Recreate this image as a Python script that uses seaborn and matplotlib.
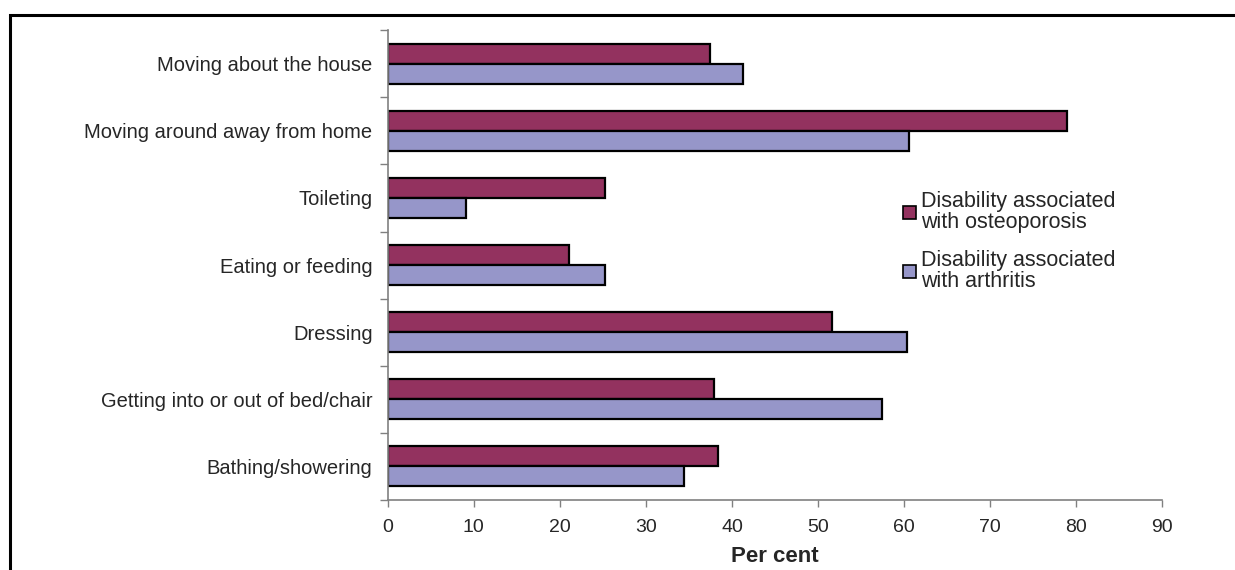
import pandas as pd
import numpy as np
import matplotlib
matplotlib.use('Agg')
import matplotlib.pyplot as plt
import seaborn as sns
from matplotlib.patches import Rectangle

# data
activities = ['Moving about the house', 'Moving around away from home', 'Toileting',
              'Eating or feeding', 'Dressing', 'Getting into or out of bed/chair',
              'Bathing/showering']
osteoporosis = [37.4, 79.0, 25.3, 21.1, 51.6, 37.9, 38.4]
arthritis = [41.3, 60.6, 9.1, 25.3, 60.4, 57.4, 34.4]
series_names = ['Disability associated\nwith osteoporosis',
                'Disability associated\nwith arthritis']
x_ticks = [0, 10, 20, 30, 40, 50, 60, 70, 80, 90]

df = pd.DataFrame({
    'activity': activities * 2,
    'value': osteoporosis + arthritis,
    'series': [series_names[0]] * len(activities) + [series_names[1]] * len(activities),
})

sns.set_style('white')
plt.rcParams['font.family'] = ['Liberation Sans', 'DejaVu Sans']

fig = plt.figure(figsize=(12.35, 5.7), dpi=100)
ax = fig.add_axes([0.314, 0.123, 0.627, 0.824])

palette = {series_names[0]: '#93325F', series_names[1]: '#9696C9'}
sns.barplot(data=df, y='activity', x='value', hue='series', order=activities,
            hue_order=series_names, palette=palette, orient='h', width=0.6,
            edgecolor='black', linewidth=1.6, saturation=1, ax=ax)

ax.set_xlim(0, 90)
ax.set_ylim(6.5, -0.5)
ax.set_xticks(x_ticks)
ax.set_xlabel('Per cent', fontsize=16, fontweight='bold', labelpad=7)
ax.set_ylabel('')
ax.tick_params(axis='x', labelsize=14, length=5, width=1, color='#808080',
               direction='out', bottom=True, pad=9)
ax.tick_params(axis='y', which='major', labelsize=14.5, length=0, pad=11)
ax.set_yticks(np.arange(-0.5, len(activities)), minor=True)
ax.tick_params(axis='y', which='minor', length=6, width=1, color='#808080',
               direction='out', left=True)

for side in ['top', 'right']:
    ax.spines[side].set_visible(False)
for side in ['left', 'bottom']:
    ax.spines[side].set_color('#808080')
    ax.spines[side].set_linewidth(1.2)

leg = ax.legend(loc='upper left', bbox_to_anchor=(0.7245, 0.68),
                bbox_transform=fig.transFigure, frameon=False, fontsize=15.5,
                handlelength=0.6, handleheight=0.6, handletextpad=0.2,
                labelspacing=0.8, borderaxespad=0)
for h in leg.legend_handles:
    h.set_linewidth(1.2)
for t in leg.get_texts():
    t.set_linespacing(1.0)

# outer border of the original figure frame
fig.patches.append(Rectangle((0.0085, -0.1), 1.1, 1.074, transform=fig.transFigure,
                             fill=False, edgecolor='black', linewidth=2.2))

fig.savefig('out.png', dpi=100)
